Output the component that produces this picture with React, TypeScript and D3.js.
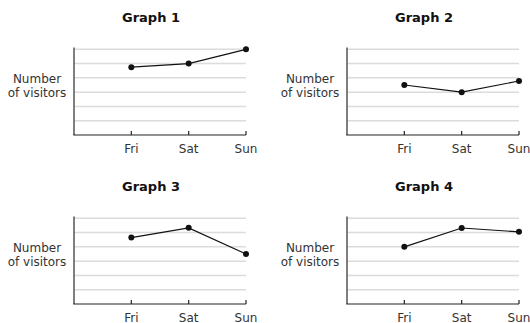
import React from "react";
import * as d3 from "d3";

const days = ["Fri", "Sat", "Sun"];
const titles = ["Graph 1", "Graph 2", "Graph 3", "Graph 4"];
const graph1 = [4.75, 5, 6];
const graph2 = [3.5, 3, 3.78];
const graph3 = [4.65, 5.33, 3.5];
const graph4 = [4, 5.32, 5.05];
const series = [graph1, graph2, graph3, graph4];
const gridValues = [1, 2, 3, 4, 5, 6];

const W = 530;
const H = 323;
const font = "'DejaVu Sans', Verdana, sans-serif";

function Panel({ title, values, ox, oy }: { title: string; values: number[]; ox: number; oy: number }) {
  const x = d3.scaleLinear().domain([0, 3]).range([ox, ox + 172]);
  const y = d3.scaleLinear().domain([0, 6]).range([oy + 135, oy + 49.3]);
  const line = d3
    .line<number>()
    .x((_, i) => x(i + 1))
    .y((d) => y(d));
  return (
    <g>
      <text x={ox + 77} y={oy + 22} textAnchor="middle" fontFamily={font} fontWeight="bold" fontSize={13} fill="#111">
        {title}
      </text>
      {gridValues.map((g) => (
        <line key={g} x1={x(0)} x2={x(3)} y1={y(g)} y2={y(g)} stroke="#dcdcdc" strokeWidth={1.5} />
      ))}
      <line x1={x(0)} x2={x(0)} y1={y(6) - 1.8} y2={y(0)} stroke="#555" strokeWidth={1.5} />
      <line x1={x(0) - 0.75} x2={x(3)} y1={y(0)} y2={y(0)} stroke="#222" strokeWidth={1.2} />
      {days.map((d, i) => (
        <g key={d}>
          <line x1={x(i + 1)} x2={x(i + 1)} y1={y(0)} y2={y(0) - 4} stroke="#222" strokeWidth={1.2} />
          <text x={x(i + 1)} y={oy + 152.5} textAnchor="middle" fontFamily={font} fontSize={12} fill="#333">
            {d}
          </text>
        </g>
      ))}
      <text x={ox - 37} textAnchor="middle" fontFamily={font} fontSize={12} fill="#333">
        <tspan x={ox - 37} y={oy + 82.5}>Number</tspan>
        <tspan x={ox - 37} y={oy + 97}>of visitors</tspan>
      </text>
      <path d={line(values) || ""} fill="none" stroke="#111" strokeWidth={1.2} />
      {values.map((v, i) => (
        <circle key={i} cx={x(i + 1)} cy={y(v)} r={3} fill="#111" />
      ))}
    </g>
  );
}

export default function App() {
  const origins = [
    [74, 0],
    [347, 0],
    [74, 169],
    [347, 169],
  ];
  return (
    <svg width={W} height={H} style={{ position: "absolute", left: 0, top: 0, background: "#fff" }}>
      {series.map((s, i) => (
        <Panel key={i} title={titles[i]} values={s} ox={origins[i][0]} oy={origins[i][1]} />
      ))}
    </svg>
  );
}
